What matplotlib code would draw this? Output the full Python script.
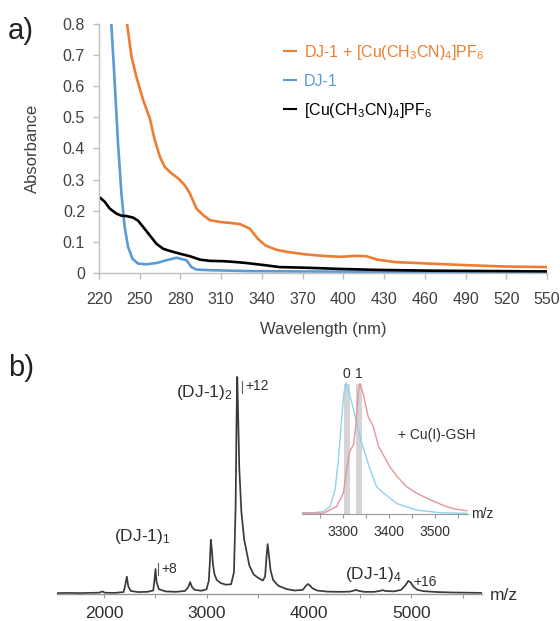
import matplotlib
matplotlib.use('Agg')
import matplotlib.pyplot as plt
from matplotlib.ticker import MultipleLocator

plt.rcParams['font.family'] = ['Liberation Sans', 'DejaVu Sans']
plt.rcParams['mathtext.fontset'] = 'custom'
plt.rcParams['mathtext.rm'] = 'Liberation Sans'
plt.rcParams['mathtext.it'] = 'Liberation Sans'
plt.rcParams['mathtext.default'] = 'rm'

# ---- panel a: UV-vis spectra ----
wl_mix = [240.7, 243.9, 247.5, 252.5, 257.4, 261.1, 264.8, 268.4, 273.4, 278.3, 283.2, 286.9,
          291.8, 296.7, 301.6, 309, 316.4, 323.8, 331, 337, 342.4, 350.4, 358.4, 371.7, 385,
          398.3, 408.9, 416.9, 424.9, 438.2, 464.8, 491.4, 518, 550]
abs_mix = [0.80, 0.696, 0.631, 0.556, 0.497, 0.427, 0.374, 0.341, 0.320, 0.304, 0.282, 0.256,
           0.207, 0.186, 0.170, 0.164, 0.161, 0.157, 0.143, 0.11, 0.089, 0.075, 0.068, 0.060, 0.055,
           0.052, 0.055, 0.054, 0.043, 0.035, 0.030, 0.025, 0.021, 0.019]

wl_dj1 = [227.5, 229.1, 231.6, 234, 236.5, 238.9, 241.4, 244.6, 248.8, 254.9, 262.3, 269.7, 277,
          280.7, 284.4, 288.1, 291.8, 301.6, 331, 370, 420, 480, 550]
abs_dj1 = [0.95, 0.80, 0.61, 0.417, 0.256, 0.148, 0.084, 0.046, 0.030, 0.028, 0.032, 0.041, 0.049,
           0.045, 0.041, 0.019, 0.011, 0.009, 0.006, 0.005, 0.004, 0.004, 0.003]

wl_cu = [220, 224.2, 227.9, 232.8, 236.5, 240.2, 245.1, 248.8, 252.5, 257.4, 262.3, 267.2, 272.1,
         279.5, 286.9, 294.3, 301.6, 311.5, 321.3, 328.7, 342.4, 353, 371.7, 398.3, 424.9, 464.8, 550]
abs_cu = [0.245, 0.229, 0.207, 0.191, 0.184, 0.183, 0.178, 0.168, 0.148, 0.121, 0.094, 0.078, 0.071,
          0.062, 0.054, 0.043, 0.039, 0.038, 0.035, 0.032, 0.025, 0.019, 0.017, 0.013, 0.010, 0.0075, 0.005]

labels_a = [r'DJ-1 + [Cu(CH$_3$CN)$_4$]PF$_6$', 'DJ-1', r'[Cu(CH$_3$CN)$_4$]PF$_6$']
colors_a = ['#ED7D31', '#5B9BD5', '#000000']

# ---- panel b: mass spectrum ----
mz = [1540, 1650, 1750, 1850, 1950, 1985, 2005, 2100, 2190, 2206, 2222, 2236, 2260, 2330, 2420,
      2480, 2492, 2502, 2512, 2535, 2600, 2700, 2790, 2822, 2840, 2858, 2885, 2950, 3000, 3022,
      3032, 3042, 3051, 3062, 3078, 3100, 3140, 3190, 3240, 3268, 3284, 3293, 3300, 3308, 3320,
      3340, 3368, 3419, 3460, 3505, 3550, 3572, 3584, 3597, 3609, 3625, 3650, 3700, 3780, 3860,
      3940, 3968, 3990, 4008, 4035, 4080, 4180, 4300, 4400, 4440, 4460, 4480, 4540, 4640, 4700,
      4720, 4745, 4830, 4900, 4942, 4970, 4992, 5022, 5060, 5120, 5250, 5400, 5550, 5690]
intensity = [0.4, 0.5, 0.4, 0.5, 0.6, 1.2, 0.6, 0.5, 0.9, 4.0, 8.0, 3.5, 1.4, 0.9, 1.0,
             1.6, 6.5, 11.5, 5.5, 2.2, 1.2, 1.0, 1.4, 3.2, 5.5, 3.2, 1.9, 1.5, 2.2, 6,
             14, 25, 21, 14, 9, 6.5, 5, 4.3, 4.5, 10, 40, 80, 100, 84, 58,
             38, 25, 13, 9, 7.4, 6.2, 8, 16, 23, 18, 11, 6.5, 3.8, 2.3, 1.6,
             1.9, 3.6, 4.6, 4.0, 2.6, 1.6, 1.1, 1.0, 1.1, 1.6, 1.9, 1.5, 1.0, 1.0, 1.5,
             1.8, 1.4, 1.2, 1.9, 4.0, 6.0, 5.4, 3.3, 1.9, 1.3, 0.9, 0.7, 0.6, 0.5]

# inset: 12+ charge state, apo vs + Cu(I)-GSH
mz_apo = [3210, 3257, 3272, 3283, 3290, 3297, 3302, 3307, 3314, 3323, 3330, 3341, 3359, 3373,
          3388, 3417, 3460, 3511, 3569]
int_apo = [0, 1.8, 5.6, 18.4, 41, 72, 92, 100, 92, 80, 69, 54, 34, 21, 16, 8, 3, 1, 0.5]
mz_cu = [3210, 3257, 3286, 3301, 3308, 3315, 3323, 3328, 3333, 3337, 3344, 3355, 3366, 3377,
         3388, 3402, 3417, 3438, 3460, 3489, 3525, 3547, 3569]
int_cu = [1, 0.5, 5.6, 16, 34, 48, 53, 67, 92, 99.5, 92, 74, 67, 52, 45, 36, 29, 21, 16, 11,
          5.6, 3.6, 2.5]
bands = [(3302, 3315), (3328, 3341)]
band_labels = ['0', '1']

W, H = 560, 621
fig = plt.figure(figsize=(W / 100, H / 100), dpi=100)


def fx(px):
    return px / W


def fy(py):
    return 1 - py / H


gray = '#bfbfbf'
txt = '#404040'

# ---------- a) ----------
ax = fig.add_axes([fx(99), fy(273), fx(547) - fx(99), fy(24) - fy(273)])
for w, a, lab, c in zip([wl_mix, wl_dj1, wl_cu], [abs_mix, abs_dj1, abs_cu], labels_a, colors_a):
    ax.plot(w, a, color=c, lw=1.9, label=lab, solid_capstyle='butt')
ax.set_xlim(220, 550)
ax.set_ylim(0, 0.8)
ax.set_xticks(range(220, 551, 30))
ax.set_yticks([0, 0.1, 0.2, 0.3, 0.4, 0.5, 0.6, 0.7, 0.8])
ax.set_yticklabels(['0', '0.1', '0.2', '0.3', '0.4', '0.5', '0.6', '0.7', '0.8'])
for s in ['top', 'right']:
    ax.spines[s].set_visible(False)
for s in ['left', 'bottom']:
    ax.spines[s].set_color(gray)
    ax.spines[s].set_linewidth(1)
ax.tick_params(axis='both', colors=gray, labelcolor=txt, labelsize=11.5, length=4, width=1)
ax.tick_params(axis='x', pad=10)
ax.tick_params(axis='y', pad=6)
ax.set_xlabel('Wavelength (nm)', fontsize=12, color=txt)
ax.xaxis.set_label_coords(0.5, (273 - 322) / 249)
ax.set_ylabel('Absorbance', fontsize=12, color=txt)
ax.yaxis.set_label_coords((40 - 99) / 448, 0.5)
leg = ax.legend(loc='upper left', bbox_to_anchor=((283 - 99) / 448, (273 - 43) / 249),
                frameon=False, handlelength=0.9, handletextpad=0.4, labelspacing=0.75,
                fontsize=11.5, borderaxespad=0, borderpad=0)
for t, c in zip(leg.get_texts(), colors_a):
    t.set_color(c)
for l in leg.get_lines():
    l.set_linewidth(1.5)
fig.text(fx(8), fy(31), 'a)', fontsize=21, color='#222222', va='center', ha='left')

# ---------- b) ----------
axb = fig.add_axes([fx(57), fy(594), fx(482) - fx(57), fy(370) - fy(594)])
axb.plot(mz, intensity, color='#3a3a3a', lw=1.25)
axb.set_xlim(1540, 5690)
axb.set_ylim(0, 103.2)
axb.set_yticks([])
for s in ['top', 'right', 'left']:
    axb.spines[s].set_visible(False)
axb.spines['bottom'].set_color('#9a9a9a')
axb.spines['bottom'].set_linewidth(1)
axb.xaxis.set_major_locator(MultipleLocator(1000))
axb.xaxis.set_minor_locator(MultipleLocator(500))
axb.tick_params(axis='x', which='both', colors='#9a9a9a', labelcolor='#303030', length=3,
                width=0.8, labelsize=12.5, pad=6)
fig.text(fx(504), fy(595), 'm/z', fontsize=12.5, color='#303030', ha='center', va='center')
fig.text(fx(233), fy(392), r'(DJ-1)$_2$', fontsize=12.5, color='#303030', ha='right', va='center')
fig.text(fx(245), fy(386), '+12', fontsize=10, color='#303030', ha='left', va='center')
fig.text(fx(142), fy(536), r'(DJ-1)$_1$', fontsize=12.5, color='#303030', ha='center', va='center')
fig.text(fx(161), fy(569), '+8', fontsize=10, color='#303030', ha='left', va='center')
fig.text(fx(373), fy(575), r'(DJ-1)$_4$', fontsize=12.5, color='#303030', ha='center', va='center')
fig.text(fx(413), fy(582), '+16', fontsize=10, color='#303030', ha='left', va='center')
fig.add_artist(plt.Line2D([fx(242), fx(242)], [fy(381), fy(393)], color='#606060', lw=0.8))
fig.add_artist(plt.Line2D([fx(158), fx(158)], [fy(563), fy(575)], color='#606060', lw=0.8))
fig.text(fx(8), fy(368), 'b)', fontsize=21, color='#222222', va='center', ha='left')

# inset
axi = fig.add_axes([fx(302), fy(514), fx(468) - fx(302), fy(380) - fy(514)])
for (lo, hi), lab in zip(bands, band_labels):
    axi.axvspan(lo, hi, ymin=0, ymax=0.97, color='#d4d4d4', lw=0)
    axi.text((lo + hi) / 2, 107, lab, ha='center', va='center', fontsize=10, color='#303030')
axi.plot(mz_apo, int_apo, color='#8fd3ec', lw=1.0)
axi.plot(mz_cu, int_cu, color='#e8939b', lw=1.0)
axi.set_xlim(3211, 3572)
axi.set_ylim(0, 102.3)
axi.set_yticks([])
axi.patch.set_alpha(0)
for s in ['top', 'right', 'left']:
    axi.spines[s].set_visible(False)
axi.spines['bottom'].set_color('#9a9a9a')
axi.spines['bottom'].set_linewidth(0.8)
axi.xaxis.set_major_locator(MultipleLocator(100))
axi.xaxis.set_minor_locator(MultipleLocator(50))
axi.tick_params(axis='x', which='both', colors='#9a9a9a', labelcolor='#303030', length=3,
                width=0.8, labelsize=10, pad=5)
axi.text(1.02, 0.0, 'm/z', transform=axi.transAxes, fontsize=10, color='#303030',
         ha='left', va='center')
fig.text(fx(437), fy(435), '+ Cu(I)-GSH', fontsize=10, color='#303030', ha='center', va='center')

fig.savefig('out.png', dpi=100)
